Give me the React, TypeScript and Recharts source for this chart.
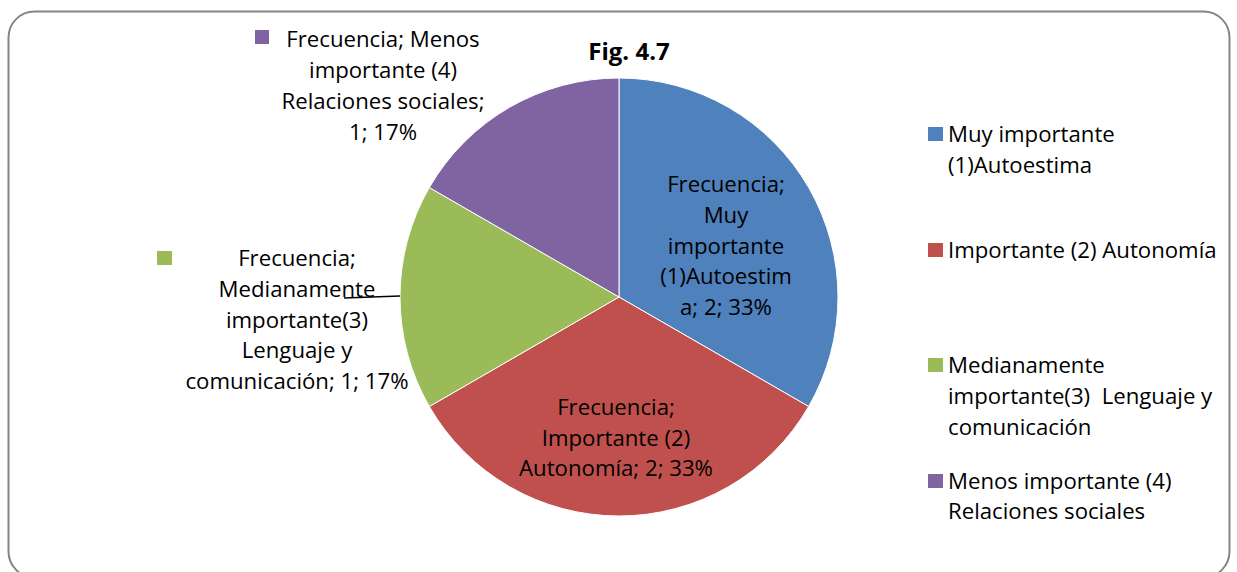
import React from 'react';
import { PieChart, Pie, Cell, Legend } from 'recharts';

const categories = [
  'Muy importante (1)Autoestima',
  'Importante (2) Autonomía',
  'Medianamente importante(3)  Lenguaje y comunicación',
  'Menos importante (4) Relaciones sociales',
];
const values = [2, 2, 1, 1];
const colors = ['#4F81BD', '#C0504D', '#9BBB59', '#8064A2'];
const legendLines = [
  ['Muy importante', '(1)Autoestima'],
  ['Importante (2) Autonomía'],
  ['Medianamente', 'importante(3)  Lenguaje y', 'comunicación'],
  ['Menos importante (4)', 'Relaciones sociales'],
];
const labelLines = [
  ['Frecuencia;', 'Muy', 'importante', '(1)Autoestim', 'a; 2; 33%'],
  ['Frecuencia;', 'Importante (2)', 'Autonomía; 2; 33%'],
  ['Frecuencia;', 'Medianamente', 'importante(3)', 'Lenguaje y', 'comunicación; 1; 17%'],
  ['Frecuencia; Menos', 'importante (4)', 'Relaciones sociales;', '1; 17%'],
];
const title = 'Fig. 4.7';

const data = categories.map((name, i) => ({ name, value: values[i] }));

const FONT = '"Open Sans", Lato, sans-serif';
const FS = 22.2;
const LH = 30.8;

// label centre offsets relative to pie centre (layout)
const labelOffsets = [
  { dx: 107, dy: -51, key: false },
  { dx: -3, dy: 141, key: false },
  { dx: -322, dy: 23, key: true },
  { dx: -236, dy: -211, key: true },
];

const renderLabel = (props: any) => {
  const { cx, cy, index, outerRadius, midAngle } = props;
  const lines = labelLines[index];
  const off = labelOffsets[index];
  const centerX = cx + off.dx;
  const centerY = cy + off.dy;
  const startY = centerY - ((lines.length - 1) * LH) / 2;
  const RAD = Math.PI / 180;
  const ex = cx + outerRadius * Math.cos(-midAngle * RAD);
  const ey = cy + outerRadius * Math.sin(-midAngle * RAD);
  return (
    <g key={`lab-${index}`}>
      {index === 2 && (
        <line x1={ex} y1={ey - 1} x2={ex - 56} y2={ey + 1} stroke="#000" strokeWidth={1.5} />
      )}
      {off.key && index === 2 && (
        <rect x={157} y={251} width={15} height={14} fill={colors[index]} />
      )}
      {off.key && index === 3 && (
        <rect x={255} y={30} width={14} height={14} fill={colors[index]} />
      )}
      <text
        x={centerX}
        textAnchor="middle"
        fontFamily={FONT}
        fontSize={FS}
        fill="#000"
      >
        {lines.map((l, i) => (
          <tspan key={i} x={centerX} y={startY + i * LH + 7.5}>
            {l}
          </tspan>
        ))}
      </text>
    </g>
  );
};

const renderLegend = () => (
  <div style={{ position: 'relative', width: 300, height: 420, fontFamily: FONT, fontSize: FS }}>
    {legendLines.map((lines, i) => (
      <div
        key={i}
        style={{ position: 'absolute', left: 0, top: i * 115.5, display: 'flex', alignItems: 'flex-start' }}
      >
        <div
          style={{
            width: 15,
            height: 14,
            background: colors[i],
            marginTop: (LH - 14) / 2,
            marginRight: 5,
            flex: 'none',
          }}
        />
        <div style={{ lineHeight: `${LH}px`, whiteSpace: 'pre', color: '#000' }}>
          {lines.map((l, j) => (
            <div key={j}>{l}</div>
          ))}
        </div>
      </div>
    ))}
  </div>
);

export default function App() {
  return (
    <div style={{ position: 'absolute', left: 0, top: 0, width: 1237, height: 572, overflow: 'hidden', background: '#fff' }}>
      <svg width={1237} height={572} style={{ position: 'absolute', left: 0, top: 0 }}>
        <rect x={8.5} y={11.5} width={1221} height={566} rx={26} ry={26} fill="#fff" stroke="#868686" strokeWidth={2} />
        <text x={629} y={60} textAnchor="middle" fontFamily={FONT} fontWeight="bold" fontSize={24} fill="#000">
          {title}
        </text>
      </svg>
      <div style={{ position: 'absolute', left: 0, top: 0 }}>
        <PieChart width={1237} height={572} margin={{ top: 0, right: 0, bottom: 0, left: 0 }}>
          <Pie
            data={data}
            dataKey="value"
            nameKey="name"
            cx={619}
            cy={297}
            outerRadius={219}
            startAngle={90}
            endAngle={-270}
            stroke="#fff"
            strokeWidth={1}
            label={renderLabel}
            labelLine={false}
            isAnimationActive={false}
          >
            {data.map((d, i) => (
              <Cell key={d.name} fill={colors[i]} />
            ))}
          </Pie>
          <Legend
            content={renderLegend}
            layout="vertical"
            align="right"
            verticalAlign="top"
            wrapperStyle={{ position: 'absolute', left: 928, top: 119, width: 300 }}
          />
        </PieChart>
      </div>
    </div>
  );
}
